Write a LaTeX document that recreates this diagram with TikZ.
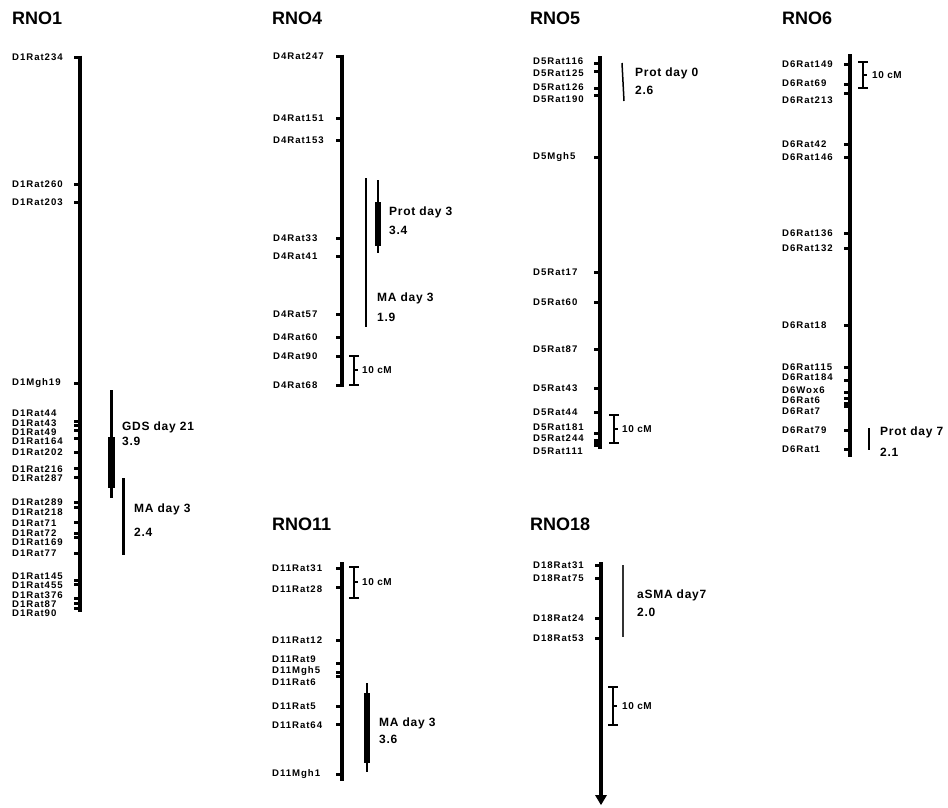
\documentclass[tikz,border=0pt]{standalone}
\usepackage{fontspec}
\setmainfont{Liberation Sans}
\newfontfamily\mkfont[LetterSpace=6]{Liberation Sans}
\newfontfamily\mklfont[LetterSpace=10]{Liberation Sans}
\begin{document}
\begin{tikzpicture}[x=1pt,y=-1pt,
  chr/.style={line width=3.4pt},
  tk/.style={line width=3pt},
  mk/.style={font=\mklfont\fontsize{9.6}{10}\selectfont\bfseries, inner sep=0pt, anchor=west},
  hd/.style={font=\fontsize{18}{20}\selectfont\bfseries, inner sep=0pt, anchor=west},
  qt/.style={font=\mkfont\fontsize{12}{13}\selectfont\bfseries, inner sep=0pt, anchor=west},
  sc/.style={font=\mkfont\fontsize{10}{10}\selectfont\bfseries, inner sep=0pt, anchor=west},
  sbar/.style={line width=1.4pt},
  thinq/.style={line width=2pt},
  thickq/.style={line width=7pt}]
\useasboundingbox (0,0) rectangle (948,807);
% ---------- headers
\node[hd] (h1) at (12,18) {RNO1};
\node[hd] (h4) at (272,18) {RNO4};
\node[hd] (h5) at (530,18) {RNO5};
\node[hd] (h6) at (782,18) {RNO6};
\node[hd] (h11) at (272,524) {RNO11};
\node[hd] (h18) at (530,524) {RNO18};
% ---------- RNO1
\coordinate (c1t) at (80,55.5); \coordinate (c1b) at (80,612);
\draw[chr] (c1t) -- (c1b);
\foreach \ly/\ty/\t [count=\i] in {57/57/D1Rat234,184/184/D1Rat260,202/202/D1Rat203,383/383/D1Mgh19,
  413/421/D1Rat44,423/425/D1Rat43,432/430/D1Rat49,441/438/D1Rat164,452/452/D1Rat202,469/468/D1Rat216,
  478/477/D1Rat287,502/502/D1Rat289,512/507/D1Rat218,523/522/D1Rat71,533/533/D1Rat72,542/537/D1Rat169,
  553/553/D1Rat77,576/580/D1Rat145,585/584/D1Rat455,595/598/D1Rat376,604/603/D1Rat87,613/608/D1Rat90}{
  \node[mk] (a\i) at (12,\ly) {\t};
  \draw[tk] (74,\ty) -- (80,\ty);
}
\coordinate (g1) at (111,390); \coordinate (g2) at (111,498);
\coordinate (g3) at (111,437); \coordinate (g4) at (111,488);
\draw[thinq,line width=3pt] (g1) -- (g2);
\draw[thickq] (g3) -- (g4);
\node[qt] (q1a) at (122,427) {GDS day 21};
\node[qt] (q1b) at (122,441) {3.9};
\coordinate (m1) at (123,478); \coordinate (m2) at (123,555);
\draw[line width=3pt] (m1) -- (m2);
\node[qt] (q1c) at (134,509) {MA day 3};
\node[qt] (q1d) at (134,532) {2.4};
% ---------- RNO4
\coordinate (c4t) at (342,54.5); \coordinate (c4b) at (342,386.5);
\draw[chr] (c4t) -- (c4b);
\foreach \ly/\ty/\t [count=\i] in {56/56/D4Rat247,118/118/D4Rat151,140/140/D4Rat153,238/238/D4Rat33,
  256/256/D4Rat41,314/314/D4Rat57,337/337/D4Rat60,356/356/D4Rat90,385/385/D4Rat68}{
  \node[mk] (b\i) at (273,\ly) {\t};
  \draw[tk] (336,\ty) -- (342,\ty);
}
\draw[sbar] (354,356) -- (354,385);
\draw[sbar] (349,356) -- (359,356);
\draw[sbar] (349,385) -- (359,385);
\draw[sbar] (354,370) -- (358,370);
\node[sc] (s4) at (362,370) {10 cM};
\coordinate (p4a) at (366,178); \coordinate (p4b) at (366,327);
\draw[thinq] (p4a) -- (p4b);
\coordinate (p4c) at (378,180); \coordinate (p4d) at (378,253);
\coordinate (p4e) at (378,202); \coordinate (p4f) at (378,246);
\draw[thinq] (p4c) -- (p4d);
\draw[line width=6pt] (p4e) -- (p4f);
\node[qt] (q4a) at (389,212) {Prot day 3};
\node[qt] (q4b) at (389,230) {3.4};
\node[qt] (q4c) at (377,298) {MA day 3};
\node[qt] (q4d) at (377,317) {1.9};
% ---------- RNO5
\coordinate (c5t) at (600,56); \coordinate (c5b) at (600,449);
\draw[chr] (c5t) -- (c5b);
\foreach \ly/\ty/\t [count=\i] in {61/63/D5Rat116,73/71/D5Rat125,87/88/D5Rat126,99/95/D5Rat190,
  157/157/D5Mgh5,272/272/D5Rat17,302/302/D5Rat60,349/349/D5Rat87,388/388/D5Rat43,412/412/D5Rat44,
  427/433/D5Rat181,438/440/D5Rat244,451/445/D5Rat111}{
  \node[mk] (e\i) at (533,\ly) {\t};
  \draw[tk] (594,\ty) -- (600,\ty);
}
\draw[tk] (594,443) -- (600,443);
\coordinate (p5a) at (622,63); \coordinate (p5b) at (624,101);
\draw[line width=1.5pt] (p5a) -- (p5b);
\node[qt] (q5a) at (635,73) {Prot day 0};
\node[qt] (q5b) at (635,90) {2.6};
\draw[sbar] (614,415) -- (614,443);
\draw[sbar] (609,415) -- (619,415);
\draw[sbar] (609,443) -- (619,443);
\draw[sbar] (614,429) -- (618,429);
\node[sc] (s5) at (622,429) {10 cM};
% ---------- RNO6
\coordinate (c6t) at (850,54); \coordinate (c6b) at (850,457);
\draw[chr] (c6t) -- (c6b);
\foreach \ly/\ty/\t [count=\i] in {64/64/D6Rat149,83/84/D6Rat69,100/93/D6Rat213,144/144/D6Rat42,
  157/157/D6Rat146,233/233/D6Rat136,248/248/D6Rat132,325/325/D6Rat18,367/367/D6Rat115,377/380/D6Rat184,
  390/392/D6Wox6,400/398/D6Rat6,411/403/D6Rat7,430/430/D6Rat79,449/449/D6Rat1}{
  \node[mk] (f\i) at (782,\ly) {\t};
  \draw[tk] (844,\ty) -- (850,\ty);
}
\draw[tk] (844,406) -- (850,406);
\draw[sbar] (863,62) -- (863,88);
\draw[sbar] (858,62) -- (868,62);
\draw[sbar] (858,88) -- (868,88);
\draw[sbar] (863,75) -- (867,75);
\node[sc] (s6) at (872,75) {10 cM};
\coordinate (p6a) at (869,428); \coordinate (p6b) at (869,450);
\draw[line width=1.5pt] (p6a) -- (p6b);
\node[qt] (q6a) at (880,432) {Prot day 7};
\node[qt] (q6b) at (880,452) {2.1};
% ---------- RNO11
\coordinate (c11t) at (342,562); \coordinate (c11b) at (342,781);
\draw[chr] (c11t) -- (c11b);
\foreach \ly/\ty/\t [count=\i] in {568/568/D11Rat31,589/587/D11Rat28,640/640/D11Rat12,659/663/D11Rat9,
  671/672/D11Mgh5,682/676/D11Rat6,706/706/D11Rat5,725/724/D11Rat64,774/774/D11Mgh1}{
  \node[mk] (k\i) at (272,\ly) {\t};
  \draw[tk] (336,\ty) -- (342,\ty);
}
\draw[sbar] (354,567) -- (354,598);
\draw[sbar] (349,567) -- (359,567);
\draw[sbar] (349,598) -- (359,598);
\draw[sbar] (354,582) -- (358,582);
\node[sc] (s11) at (362,582) {10 cM};
\coordinate (p11a) at (367,683); \coordinate (p11b) at (367,772);
\coordinate (p11c) at (367,693); \coordinate (p11d) at (367,763);
\draw[thinq] (p11a) -- (p11b);
\draw[line width=6pt] (p11c) -- (p11d);
\node[qt] (q11a) at (379,723) {MA day 3};
\node[qt] (q11b) at (379,739) {3.6};
% ---------- RNO18
\coordinate (c18t) at (601,562); \coordinate (c18b) at (601,797);
\draw[chr] (c18t) -- (c18b);
\fill (595,795) -- (607,795) -- (601,805) -- cycle;
\foreach \ly/\ty/\t [count=\i] in {565/565/D18Rat31,578/578/D18Rat75,618/618/D18Rat24,638/638/D18Rat53}{
  \node[mk] (r\i) at (533,\ly) {\t};
  \draw[tk] (595,\ty) -- (601,\ty);
}
\coordinate (p18a) at (623,565); \coordinate (p18b) at (623,637);
\draw[line width=1.6pt, black!80] (p18a) -- (p18b);
\node[qt] (q18a) at (637,595) {aSMA day7};
\node[qt] (q18b) at (637,612) {2.0};
\draw[sbar] (613,687) -- (613,725);
\draw[sbar] (608,687) -- (618,687);
\draw[sbar] (608,725) -- (618,725);
\draw[sbar] (613,706) -- (617,706);
\node[sc] (s18) at (622,706) {10 cM};
\end{tikzpicture}
\end{document}
